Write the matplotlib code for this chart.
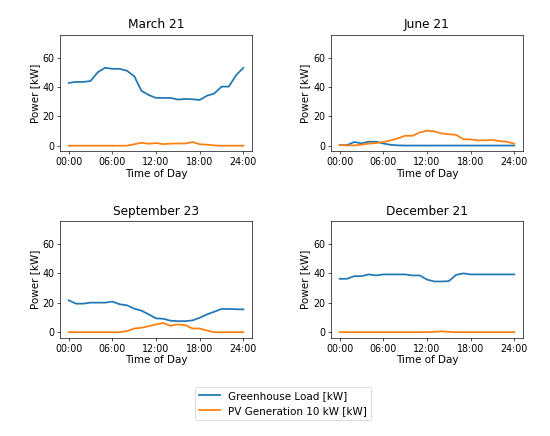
import matplotlib
matplotlib.use("Agg")
import matplotlib.pyplot as plt

hours = list(range(25))
hour_ticks = [0, 6, 12, 18, 24]
hour_labels = ["00:00", "06:00", "12:00", "18:00", "24:00"]

titles = ["March 21", "June 21", "September 23", "December 21"]

# Greenhouse load [kW], hourly 0..24
load_mar = [42.7, 43.4, 43.4, 44.0, 50.0, 53.0, 52.3, 52.3, 51.0, 47.3, 37.3, 34.5, 32.5,
            32.5, 32.5, 31.4, 31.8, 31.6, 31.1, 34.0, 35.5, 40.2, 40.2, 48.0, 53.0]
load_jun = [0.5, 0.3, 2.5, 1.6, 2.7, 2.7, 1.5, 0.6, 0.2, 0.1, 0.1, 0.1, 0.1,
            0.1, 0.1, 0.1, 0.1, 0.1, 0.1, 0.1, 0.1, 0.1, 0.1, 0.1, 0.1]
load_sep = [21.7, 19.4, 19.4, 20.1, 20.1, 20.1, 20.8, 19.0, 18.3, 16.0, 14.6, 12.1, 9.4,
            9.1, 7.8, 7.5, 7.5, 8.0, 9.8, 12.1, 13.9, 15.8, 15.8, 15.6, 15.5]
load_dec = [36.3, 36.3, 38.1, 38.1, 39.3, 38.6, 39.3, 39.3, 39.3, 39.3, 38.6, 38.6, 35.8,
            34.5, 34.5, 34.7, 39.0, 40.0, 39.3, 39.3, 39.3, 39.3, 39.3, 39.3, 39.3]

# PV generation 10 kW [kW]
pv_mar = [0, 0, 0, 0, 0, 0, 0, 0, 0, 1.0, 2.0, 1.3, 1.8,
          1.1, 1.4, 1.5, 1.5, 2.5, 1.0, 0.7, 0.2, 0, 0, 0, 0]
pv_jun = [0.5, 0.2, 0.2, 0.7, 1.4, 1.8, 2.5, 3.6, 5.0, 6.8, 6.7, 9.0, 10.2,
          9.8, 8.3, 7.8, 7.4, 4.4, 4.3, 3.6, 3.7, 3.9, 3.1, 2.7, 1.3]
pv_sep = [0, 0, 0, 0, 0, 0, 0, 0, 0.7, 2.5, 3.0, 4.1, 5.3,
          6.2, 4.3, 5.3, 4.8, 2.5, 2.5, 1.1, 0, 0, 0, 0, 0]
pv_dec = [0, 0, 0, 0, 0, 0, 0, 0, 0, 0, 0, 0, 0,
          0.2, 0.6, 0.2, 0, 0, 0, 0, 0, 0, 0, 0, 0]

loads = [load_mar, load_jun, load_sep, load_dec]
pvs = [pv_mar, pv_jun, pv_sep, pv_dec]

plt.rcParams["xtick.labelsize"] = 11.4
plt.rcParams["ytick.labelsize"] = 11.4
plt.rcParams["axes.labelsize"] = 12.4

fig, axes = plt.subplots(2, 2, figsize=(550 / 60, 436 / 60), dpi=60)
fig.subplots_adjust(left=0.109, right=0.951, top=0.920, bottom=0.225,
                    wspace=0.41, hspace=0.60)

for ax, title, load, pv in zip(axes.flat, titles, loads, pvs):
    ax.plot(hours, load, color="#1f77b4", linewidth=2.1, label="Greenhouse Load [kW]")
    ax.plot(hours, pv, color="#ff7f0e", linewidth=2.1, label="PV Generation 10 kW [kW]")
    ax.set_title(title, fontsize=14.5, pad=8)
    ax.set_xticks(hour_ticks)
    ax.set_xticklabels(hour_labels)
    ax.set_yticks([0, 20, 40, 60])
    ax.set_ylim(-3.9, 75.4)
    ax.set_xlabel("Time of Day", labelpad=2)
    ax.set_ylabel("Power [kW]", labelpad=3)

handles, labels = axes[0, 0].get_legend_handles_labels()
fig.legend(handles, labels, loc="lower center", bbox_to_anchor=(0.515, 0.025),
           fontsize=12.4)

fig.savefig("out.png", dpi=60)
